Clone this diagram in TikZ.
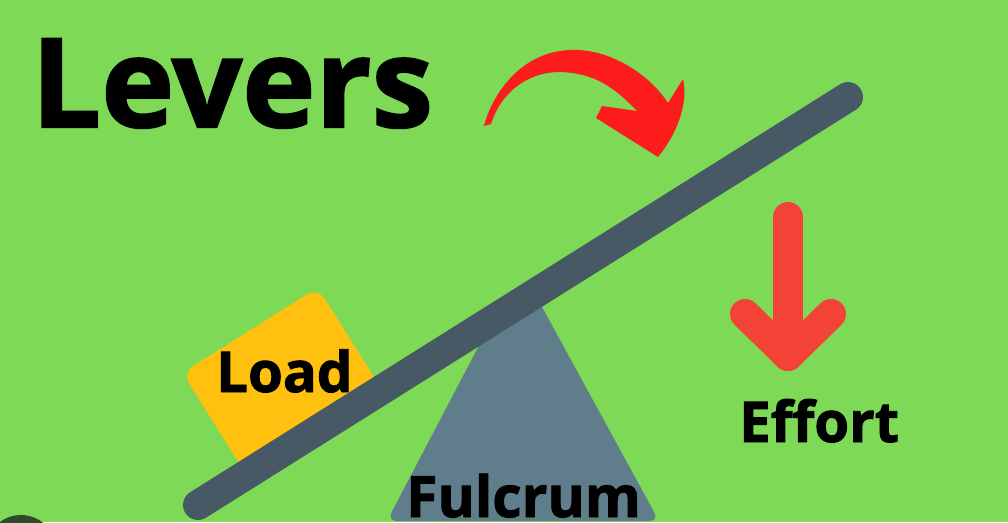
\documentclass[tikz,border=0pt]{standalone}
\usepackage{fontspec}
\setmainfont{Open Sans}[BoldFeatures={FakeBold=1.6}]
\usepackage{xcolor}
\usepackage{tikz}

\definecolor{bggreen}{RGB}{126,217,87}
\definecolor{leverslate}{RGB}{71,89,101}
\definecolor{fulcrumgrey}{RGB}{96,125,139}
\definecolor{loadyellow}{RGB}{255,192,15}
\definecolor{effortred}{RGB}{243,67,54}
\definecolor{turnred}{RGB}{253,28,28}
\definecolor{cornergreen}{RGB}{45,75,40}

\tikzset{
  label text/.style={inner sep=0pt, anchor=base west, font=\bfseries},
  thick bar/.style={line width=21.3pt, line cap=round, line join=round}
}

\begin{document}
\begin{tikzpicture}[x=0.025cm, y=-0.025cm]
    \useasboundingbox (0,0) rectangle (1008,522);
    \fill[bggreen] (0,0) rectangle (1008,522);
    \begin{scope}
    \clip (0,0) rectangle (1008,522);
    \fill[cornergreen] (21,550) circle (35);
    % the load and the fulcrum
    \fill[loadyellow, rounded corners=9pt, rotate around={32.2:(282,381)}] (202,321) rectangle (362,441);
    \fill[fulcrumgrey, rounded corners=7pt] (505,296) -- (536,296) -- (659,521) -- (387,521) -- cycle;
    \end{scope}
    % the lever
    \coordinate (leverleft) at (198,505);
    \coordinate (leverright) at (848,97);
    \draw[thick bar, leverslate] (leverleft) -- (leverright);
    % effort arrow
    \coordinate (efforttop) at (788,217);
    \coordinate (efforttip) at (788,356);
    \draw[thick bar, effortred] (efforttop) -- (efforttip);
    \draw[thick bar, effortred] (745,314) -- (efforttip) -- (831,314);
    % turning arrow
    \fill[turnred] (484,126) .. controls (492,95) and (520,52) .. (570,50)
        .. controls (610,48) and (650,75) .. (668,103) -- (683,79)
        .. controls (688,100) and (680,130) .. (658,157)
        -- (596,118) -- (602,106) -- (637,111)
        .. controls (615,88) and (595,73) .. (560,72)
        .. controls (525,72) and (500,95) .. (491,124) -- cycle;
    % texts
    \node[label text, font=\fontsize{88}{92}\selectfont\bfseries] (title) at (31,127) {Levers};
    \node[label text, font=\fontsize{40}{44}\selectfont\bfseries] (load) at (216,392) {Load};
    \node[label text, font=\fontsize{40.5}{44}\selectfont\bfseries] (fulcrum) at (406,517) {Fulcrum};
    \node[label text, font=\fontsize{40}{44}\selectfont\bfseries] (effort) at (739,442) {Effort};
\end{tikzpicture}
\end{document}
